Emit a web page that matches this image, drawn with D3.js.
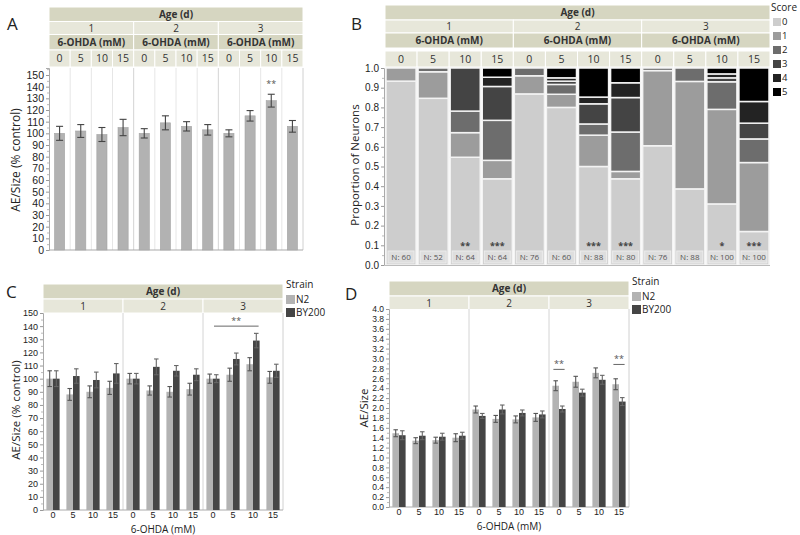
<!DOCTYPE html>
<html><head><meta charset="utf-8">
<script src="https://cdn.jsdelivr.net/npm/d3@7"></script>
<style>
body{margin:0;background:#fff;}
svg{display:block;font-family:"Open Sans",sans-serif;}
</style></head>
<body><svg id="c" width="800" height="535"></svg>
<script>
// ---------- DATA ----------
const ages = ["1","2","3"];
const doses = ["0","5","10","15"];
const strains = ["N2","BY200"];
const scores = ["0","1","2","3","4","5"];

// Panel A: BY200 AE/Size (% control)
const aMean = [100,102,99,105, 100,109,106,103, 100,115,128,106];
const aErr  = [6,5.5,6,7, 4,6,4,4.5, 3,4.5,5.5,5];
const aSig  = ["","","","", "","","","", "","","**",""];

// Panel B: neuron counts per score (0..5)
const bCounts = [
  [56,4,0,0,0,0],[44,7,1,0,0,0],[35,8,7,14,0,0],[28,6,13,11,3,3],
  [66,7,3,0,0,0],[48,4,3,1,1,3],[44,14,5,9,3,13],[35,3,16,14,6,6],
  [46,29,1,0,0,0],[34,48,6,0,0,0],[31,48,14,2,2,3],[17,35,12,8,11,17]
];
const bSig = ["","","**","***", "","","***","***", "","","*","***"];

// Panel C: AE/Size (% control)
const cN2    = [100,88,90,93, 100,91,90,92, 100,103,111,101];
const cN2Err = [6,4.5,4.5,5, 4,3.5,4,4.5, 3.5,5,5,4.5];
const cBY    = [100,102,99,104, 100,109,106,103, 100,115,129,106];
const cBYErr = [6,5.5,6,7.5, 4,6,4,4.5, 3,4.5,5.5,5];

// Panel D: AE/Size
const dN2    = [1.49,1.34,1.35,1.40, 1.97,1.78,1.77,1.81, 2.45,2.53,2.71,2.48];
const dN2Err = [0.07,0.06,0.06,0.08, 0.07,0.07,0.07,0.08, 0.10,0.11,0.10,0.11];
const dBY    = [1.45,1.44,1.42,1.44, 1.84,1.97,1.90,1.87, 1.98,2.31,2.57,2.13];
const dBYErr = [0.09,0.08,0.07,0.07, 0.05,0.09,0.06,0.07, 0.06,0.07,0.09,0.08];

const yTicksPct = d3.range(0,151,10);
const yTicksProp = d3.range(0,1.0001,0.1);
const yTicksD = d3.range(0,4.0001,0.2);

// ---------- STYLE ----------
const HDR_DARK = "#d6d6c1", HDR_LIGHT = "#e7e7da";
const scoreColors = ["#cdcdcd","#9c9c9c","#6d6d6d","#444444","#232323","#000000"];
const strainColors = {"N2":"#b3b3b3","BY200":"#454545"};
const cats = ages.flatMap(a => doses.map(d => a+"|"+d));

const svg = d3.select("#c");

function hdrRow(g, y, h, fill, cells, opts={}){
  cells.forEach(c=>{
    g.append("rect").attr("x",c.x0).attr("y",y).attr("width",c.x1-c.x0).attr("height",h)
      .attr("fill",fill).attr("stroke","#fff").attr("stroke-width",1);
    g.append("text").attr("x",(c.x0+c.x1)/2).attr("y",y+h/2).attr("dy","0.36em")
      .attr("text-anchor","middle").attr("font-size",opts.size||10)
      .attr("font-weight",opts.bold?"bold":"normal").attr("fill","#333").text(c.text);
  });
}
function ageCells(x){ return ages.map(a=>({x0:x(a+"|"+doses[0]), x1:x(a+"|"+doses[3])+x.bandwidth(), text:a})); }
function doseCells(x){ return cats.map(k=>({x0:x(k), x1:x(k)+x.bandwidth(), text:k.split("|")[1]})); }
function fullCell(x,t){ return [{x0:x.range()[0], x1:x.range()[1], text:t}]; }

function yAxis(g, y, x0, ticks, fmt, minor, fs){
  const ax = g.append("g").attr("transform",`translate(${x0},0)`)
    .call(d3.axisLeft(y).tickValues(ticks).tickFormat(fmt).tickSize(3).tickPadding(2));
  ax.selectAll("text").attr("font-size",fs).attr("fill","#222");
  ax.selectAll("line").attr("stroke","#999");
  ax.select(".domain").attr("stroke","#aaa");
  const mx = g.append("g").attr("transform",`translate(${x0},0)`)
    .call(d3.axisLeft(y).tickValues(minor).tickFormat("").tickSize(2));
  mx.selectAll("line").attr("stroke","#bbb");
  mx.select(".domain").remove();
}
function errBar(g, cx, y, m, e, cap, color){
  g.append("line").attr("x1",cx).attr("x2",cx).attr("y1",y(m-e)).attr("y2",y(m+e)).attr("stroke",color).attr("stroke-width",1.1);
  [m-e,m+e].forEach(v=>g.append("line").attr("x1",cx-cap/2).attr("x2",cx+cap/2).attr("y1",y(v)).attr("y2",y(v)).attr("stroke",color).attr("stroke-width",1.1));
}
function frame(g, x, y, sepAll){
  const [x0,x1]=x.range(), [yb,yt]=y.range();
  g.append("rect").attr("x",x0).attr("y",yt).attr("width",x1-x0).attr("height",yb-yt).attr("fill","#fff");
  cats.forEach((k,i)=>{
    if(i===0) return;
    const isGroup = k.endsWith("|"+doses[0]);
    if(!isGroup && !sepAll) return;
    g.append("line").attr("x1",x(k)).attr("x2",x(k)).attr("y1",yt).attr("y2",yb)
      .attr("stroke", isGroup?"#d4d4d4":"#e6e6e6").attr("stroke-width",1);
  });
  g.append("line").attr("x1",x1).attr("x2",x1).attr("y1",yt).attr("y2",yb).attr("stroke","#d0d0d0");
  g.append("line").attr("x1",x0).attr("x2",x1).attr("y1",yb).attr("y2",yb).attr("stroke","#aaa");
}
function letter(t,x,y){ svg.append("text").attr("x",x).attr("y",y).attr("font-size",17).attr("fill","#222").text(t); }
function yTitle(t,x,y,fs){ svg.append("text").attr("transform",`translate(${x},${y}) rotate(-90)`).attr("text-anchor","middle").attr("font-size",fs).attr("fill","#222").text(t); }

// ---------- PANEL A ----------
{
  const g = svg.append("g");
  const x = d3.scaleBand().domain(cats).range([49,303]);
  const y = d3.scaleLinear().domain([0,156]).range([250,68]);
  hdrRow(g,7,14.5,HDR_DARK,fullCell(x,"Age (d)"),{bold:true,size:10});
  hdrRow(g,21.5,13,HDR_LIGHT,ageCells(x),{size:10});
  hdrRow(g,34.5,15.5,HDR_DARK,ageCells(x).map(c=>({...c,text:"6-OHDA (mM)"})),{bold:true,size:10});
  hdrRow(g,50,17,HDR_LIGHT,doseCells(x),{size:10.5});
  frame(g,x,y,true);
  const bw = x.bandwidth()*0.48;
  cats.forEach((k,i)=>{
    const cx = x(k)+x.bandwidth()/2;
    g.append("rect").attr("x",cx-bw/2).attr("y",y(aMean[i])).attr("width",bw).attr("height",y(0)-y(aMean[i]))
      .attr("fill","#b2b2b2").attr("stroke","#a4a4a4").attr("stroke-width",0.6);
    errBar(g,cx,y,aMean[i],aErr[i],7,"#444");
    if(aSig[i]) g.append("text").attr("x",cx).attr("y",y(aMean[i]+aErr[i])-7).attr("text-anchor","middle").attr("font-size",9).attr("fill","#555").text(aSig[i]);
  });
  yAxis(g,y,49,yTicksPct,d3.format("d"),d3.range(5,156,10),10.5);
  letter("A",7,30);
  yTitle("AE/Size (% control)",20,160,12);
}

// ---------- PANEL B ----------
{
  const g = svg.append("g");
  const x = d3.scaleBand().domain(cats).range([385,770]);
  const y = d3.scaleLinear().domain([0,1]).range([265,68]);
  hdrRow(g,5,15,HDR_DARK,fullCell(x,"Age (d)"),{bold:true,size:10});
  hdrRow(g,20,13,HDR_LIGHT,ageCells(x),{size:10});
  hdrRow(g,33,15,HDR_DARK,ageCells(x).map(c=>({...c,text:"6-OHDA (mM)"})),{bold:true,size:10});
  hdrRow(g,51,16,HDR_LIGHT,doseCells(x),{size:10.5});
  const stack = d3.stack().keys(d3.range(scores.length))
    .offset(d3.stackOffsetExpand)(bCounts);
  stack.forEach((layer,si)=>{
    layer.forEach((seg,i)=>{
      if(seg[1]-seg[0] <= 0) return;
      g.append("rect").attr("x",x(cats[i])+1).attr("width",x.bandwidth()-2)
        .attr("y",y(seg[1])).attr("height",y(seg[0])-y(seg[1]))
        .attr("fill",scoreColors[si]).attr("stroke","#f3f3f3").attr("stroke-width",1.5);
    });
  });
  cats.forEach((k,i)=>{
    const cx = x(k)+x.bandwidth()/2;
    const n = d3.sum(bCounts[i]);
    g.append("rect").attr("x",cx-13).attr("y",251).attr("width",26).attr("height",12)
      .attr("fill","#dedede").attr("stroke","#ececec");
    g.append("text").attr("x",cx).attr("y",257).attr("dy","0.35em").attr("text-anchor","middle")
      .attr("font-size",8).attr("fill","#555").text("N: "+n);
    if(bSig[i]) g.append("text").attr("x",cx).attr("y",249).attr("text-anchor","middle")
      .attr("font-size",9).attr("font-weight","bold").attr("fill","#444").text(bSig[i]);
  });
  g.append("line").attr("x1",385).attr("x2",770).attr("y1",265.5).attr("y2",265.5).attr("stroke","#bbb");
  yAxis(g,y,384,yTicksProp,d3.format(".1f"),d3.range(0.05,1,0.1),10);
  letter("B",351,30);
  yTitle("Proportion of Neurons",359,165,11.5);
  // legend
  const lg = g.append("g");
  lg.append("text").attr("x",771).attr("y",11).attr("font-size",10).attr("fill","#222").text("Score");
  scores.forEach((s,i)=>{
    lg.append("rect").attr("x",773).attr("y",18+i*14).attr("width",8).attr("height",8).attr("fill",scoreColors[i]);
    lg.append("text").attr("x",782).attr("y",22+i*14).attr("dy","0.36em").attr("font-size",9.5).attr("fill","#222").text(s);
  });
}

// ---------- PANELS C & D ----------
function groupedPanel(opt){
  const g = svg.append("g");
  const x = d3.scaleBand().domain(cats).range(opt.xr);
  const y = d3.scaleLinear().domain(opt.yd).range(opt.yr);
  hdrRow(g,opt.hy,15,HDR_DARK,fullCell(x,"Age (d)"),{bold:true,size:10});
  hdrRow(g,opt.hy+15,14,HDR_LIGHT,ageCells(x),{size:10});
  frame(g,x,y,false);
  const inner = d3.scaleBand().domain(strains).range([x.bandwidth()*0.17, x.bandwidth()*0.83]);
  const series = {"N2":[opt.n2,opt.n2e], "BY200":[opt.by,opt.bye]};
  cats.forEach((k,i)=>{
    strains.forEach(s=>{
      const [m,e] = series[s];
      const bx = x(k)+inner(s);
      g.append("rect").attr("x",bx).attr("y",y(m[i])).attr("width",inner.bandwidth()).attr("height",y(0)-y(m[i]))
        .attr("fill",strainColors[s]);
      errBar(g,bx+inner.bandwidth()/2,y,m[i],e[i],4.5,s==="N2"?"#555":"#666");
    });
  });
  opt.sig.forEach(sg=>{
    const xa = x(sg.from[0])+inner(sg.from[1])+1, xb = x(sg.to[0])+inner(sg.to[1])+inner.bandwidth()-1;
    g.append("line").attr("x1",xa).attr("x2",xb).attr("y1",y(sg.at)).attr("y2",y(sg.at)).attr("stroke","#666").attr("stroke-width",1);
    g.append("text").attr("x",(xa+xb)/2).attr("y",y(sg.at)-2).attr("text-anchor","middle").attr("font-size",9).attr("fill","#555").text("**");
  });
  yAxis(g,y,opt.xr[0],opt.ticks,opt.fmt,opt.minor,opt.fs);
  const xa = g.append("g").attr("transform",`translate(0,${opt.yr[0]})`)
    .call(d3.axisBottom(x).tickFormat(k=>k.split("|")[1]).tickSize(0).tickPadding(2));
  xa.select(".domain").remove();
  xa.selectAll("text").attr("font-size",9).attr("fill","#222");
  g.append("text").attr("x",(opt.xr[0]+opt.xr[1])/2).attr("y",opt.yr[0]+23).attr("text-anchor","middle").attr("font-size",10).attr("fill","#222").text("6-OHDA (mM)");
  // legend
  const lx = opt.xr[1]+3;
  g.append("text").attr("x",lx).attr("y",opt.hy+4).attr("font-size",10).attr("fill","#222").text("Strain");
  strains.forEach((s,i)=>{
    g.append("rect").attr("x",lx).attr("y",opt.hy+11+i*13).attr("width",9).attr("height",9).attr("fill",strainColors[s]);
    g.append("text").attr("x",lx+10).attr("y",opt.hy+15.5+i*13).attr("dy","0.36em").attr("font-size",10).attr("fill","#222").text(s);
  });
}
groupedPanel({xr:[43,283], yd:[0,150], yr:[510,313], hy:284,
  n2:cN2,n2e:cN2Err,by:cBY,bye:cBYErr, ticks:yTicksPct, fmt:d3.format("d"), minor:d3.range(5,150,10), fs:9,
  sig:[{from:["3|0","BY200"],to:["3|10","BY200"],at:140}]});
groupedPanel({xr:[389,629], yd:[0,4], yr:[507,309], hy:281,
  n2:dN2,n2e:dN2Err,by:dBY,bye:dBYErr, ticks:yTicksD, fmt:d3.format(".1f"), minor:d3.range(0.1,4,0.2), fs:8.5,
  sig:[{from:["3|0","N2"],to:["3|0","BY200"],at:2.78},{from:["3|15","N2"],to:["3|15","BY200"],at:2.88}]});
letter("C",6,298);
letter("D",345,300);
yTitle("AE/Size (% control)",20,410,11.5);
yTitle("AE/Size",368,408,11.5);
</script></body></html>
